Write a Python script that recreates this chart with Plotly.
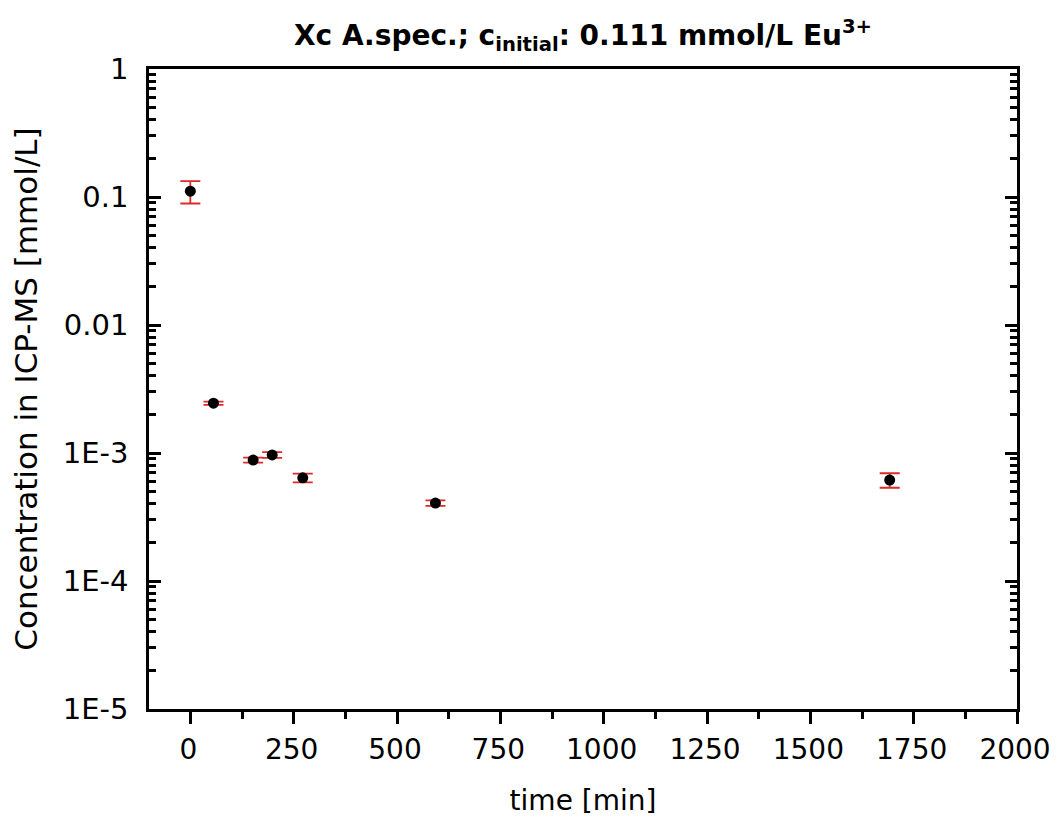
import plotly.graph_objects as go

time_min = [0, 56, 152, 198, 272, 593, 1692]
conc = [0.111, 0.00245, 0.00088, 0.000965, 0.00064, 0.000406, 0.000615]
err = [0.022, 0.00007, 0.00004, 0.00005, 0.00005, 0.00002, 0.00008]

y_tickvals = [1, 0.1, 0.01, 1e-3, 1e-4, 1e-5]
y_ticktext = ["1", "0.1", "0.01", "1E-3", "1E-4", "1E-5"]
x_tickvals = [0, 250, 500, 750, 1000, 1250, 1500, 1750, 2000]

minor_y = [m * 10.0 ** e for e in range(-5, 0) for m in range(2, 10)]

fig = go.Figure()
fig.add_trace(go.Scatter(
    x=time_min, y=conc, mode="markers",
    marker=dict(color="black", size=11),
    error_y=dict(type="data", array=err, visible=True, color="#dd2a2a",
                 thickness=1.8, width=10),
    showlegend=False,
))

font_family = "DejaVu Sans, sans-serif"
fig.update_layout(
    width=1042, height=809,
    margin=dict(l=141, r=33, t=61, b=108, autoexpand=False),
    paper_bgcolor="white", plot_bgcolor="white",
    font=dict(family=font_family, color="black"),
    title=dict(
        text="<b>Xc A.spec.; c<sub>initial</sub>: 0.111 mmol/L Eu<sup>3+</sup></b>",
        x=(583 - 8) / 1042, xanchor="center", y=1 - 27 / 809, yanchor="middle",
        font=dict(size=28, family=font_family, color="black"),
    ),
    xaxis=dict(
        range=[-100, 2000], tickvals=x_tickvals,
        ticks="outside", ticklen=12, tickwidth=2.5, tickcolor="black",
        showline=True, linewidth=2.5, linecolor="black", mirror=True,
        showgrid=False, zeroline=False, automargin=False,
        tickfont=dict(size=28), ticklabelstandoff=2, ticklabelshift=-2,
        ticklabeloverflow="allow",
        title=dict(text="time [min]", font=dict(size=28), standoff=28),
        minor=dict(ticks="outside", ticklen=7, tickwidth=2.5, tickcolor="black",
                   dtick=125, tick0=0, showgrid=False),
    ),
    yaxis=dict(
        type="log", range=[-5, 0],
        tickvals=y_tickvals, ticktext=y_ticktext,
        ticks="inside", ticklen=12, tickwidth=2.5, tickcolor="black",
        showline=True, linewidth=2.5, linecolor="black", mirror="ticks",
        showgrid=False, zeroline=False, automargin=False,
        tickfont=dict(size=29), ticklabelstandoff=12, ticklabeloverflow="allow",
        title=dict(text="Concentration in ICP-MS [mmol/L]", font=dict(size=31), standoff=18),
        minor=dict(ticks="inside", ticklen=7, tickwidth=2.5, tickcolor="black",
                   tickvals=minor_y, showgrid=False),
    ),
)

fig.write_html("out.html")
